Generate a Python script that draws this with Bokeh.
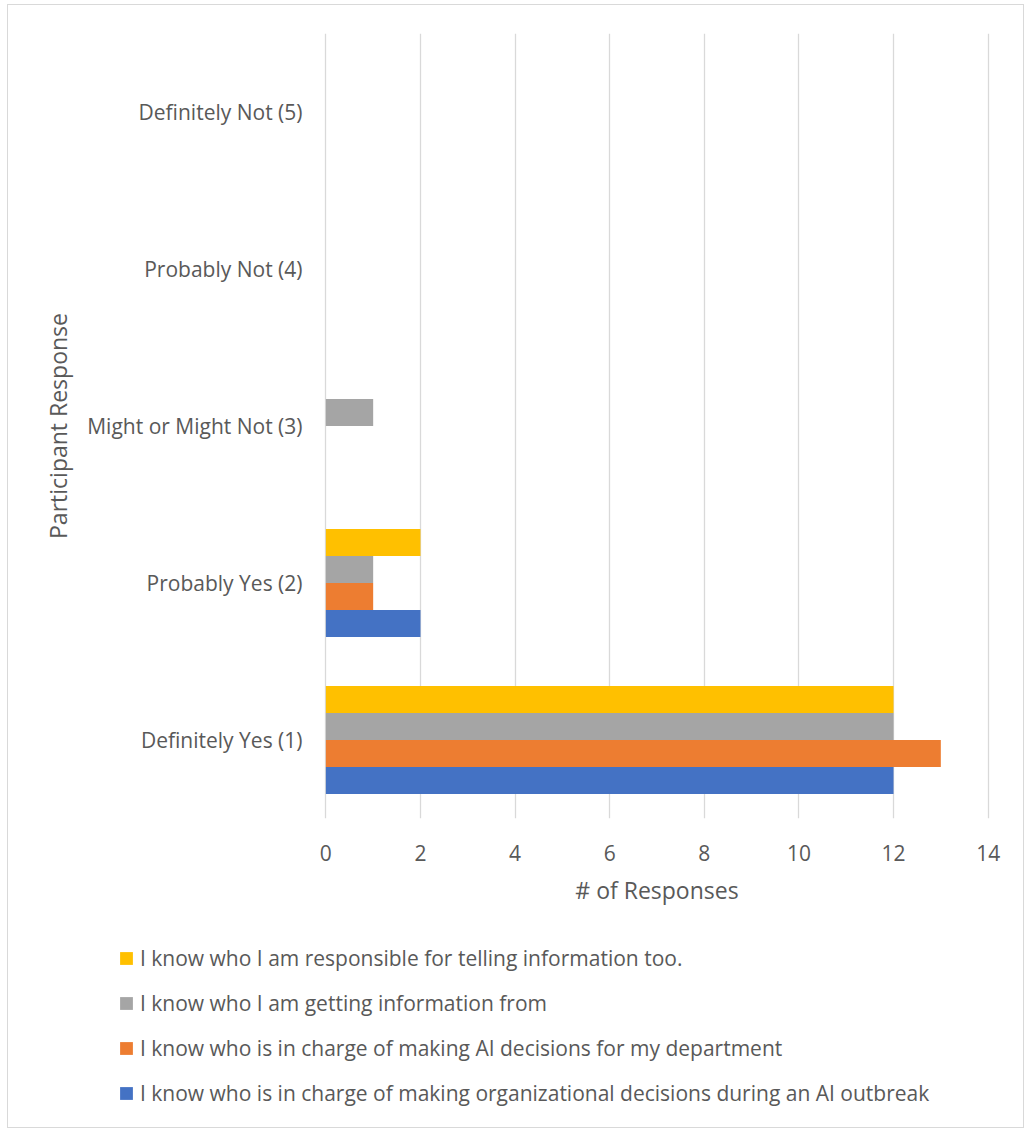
from bokeh.plotting import figure
from bokeh.models import (ColumnDataSource, FactorRange, Range1d, Legend, LegendItem,
                          FixedTicker)
from bokeh.transform import dodge
from bokeh.embed import file_html
from bokeh.resources import INLINE

# Response options, listed bottom to top
categories = ["Definitely Yes (1)", "Probably Yes (2)", "Might or Might Not (3)",
              "Probably Not (4)", "Definitely Not (5)"]

# Counts of responses per statement
organizational = [12, 2, 0, 0, 0]
department_ai = [13, 1, 0, 0, 0]
getting_info = [12, 1, 1, 0, 0]
telling_info = [12, 2, 0, 0, 0]

series_labels = [
    "I know who is in charge of making organizational decisions during an AI outbreak",
    "I know who is in charge of making AI decisions for my department",
    "I know who I am getting information from",
    "I know who I am responsible for telling information too.",
]
series_values = [organizational, department_ai, getting_info, telling_info]
colors = ["#4472C4", "#ED7D31", "#A5A5A5", "#FFC000"]

x_ticks = [0, 2, 4, 6, 8, 10, 12, 14]

FONT = "Open Sans"
TEXT_COLOR = "#595959"
TICK_FS = "21px"
TITLE_FS = "23px"
BORDER = "1px solid #D9D9D9"

INNER_W = 1017
CHART_H = 925
LEGEND_H = 199

# ---- chart -------------------------------------------------------------
p = figure(width=INNER_W, height=CHART_H, output_backend="svg", toolbar_location=None,
           y_range=FactorRange(factors=categories), x_range=Range1d(-0.05, 14.05),
           min_border_left=315, min_border_right=35, min_border_top=28,
           min_border_bottom=112,
           styles={"border-top": BORDER, "border-left": BORDER, "border-right": BORDER,
                   "margin-left": "7px", "margin-top": "4px"})
p.outline_line_color = None
p.background_fill_color = "white"
p.border_fill_color = "white"

source = ColumnDataSource(dict(cat=categories,
                               **{f"s{i}": v for i, v in enumerate(series_values)}))

bar_h = 0.172
for i, color in enumerate(colors):
    offset = (i - 1.5) * bar_h
    p.hbar(y=dodge("cat", offset, range=p.y_range), right=f"s{i}", left=0,
           height=bar_h, source=source, fill_color=color, line_color=None)

p.xaxis.ticker = FixedTicker(ticks=x_ticks)
for ax in (p.xaxis[0], p.yaxis[0]):
    ax.axis_line_color = None
    ax.major_tick_line_color = None
    ax.minor_tick_line_color = None
    ax.major_label_text_font = FONT
    ax.major_label_text_font_size = TICK_FS
    ax.major_label_text_color = TEXT_COLOR
    ax.axis_label_text_font = FONT
    ax.axis_label_text_font_size = TITLE_FS
    ax.axis_label_text_color = TEXT_COLOR
    ax.axis_label_text_font_style = "normal"

p.xaxis.axis_label = "# of Responses"
p.xaxis.major_label_standoff = 20
p.xaxis.axis_label_standoff = 10
p.yaxis.axis_label = "Participant Response"
p.yaxis.major_label_standoff = 15
p.yaxis.axis_label_standoff = 10

p.xgrid.grid_line_color = "#D9D9D9"
p.xgrid.grid_line_width = 1.3
p.ygrid.grid_line_color = None

# ---- legend panel --------------------------------------------------------
lg = figure(width=INNER_W, height=LEGEND_H, output_backend="svg", toolbar_location=None,
            x_axis_type=None, y_axis_type=None, x_range=Range1d(0, 1), y_range=Range1d(0, 1),
            min_border_left=0, min_border_right=0, min_border_top=0, min_border_bottom=0,
            styles={"border-bottom": BORDER, "border-left": BORDER, "border-right": BORDER,
                    "margin-left": "7px"})
lg.outline_line_color = None
lg.grid.grid_line_color = None
lg.background_fill_color = "white"
lg.border_fill_color = "white"

# swatch-only renderers (NaN geometry, nothing drawn in the frame)
nan = float("nan")
swatches = []
for label, color in zip(series_labels, colors):
    r = lg.quad(left=[nan], right=[nan], top=[nan], bottom=[nan],
                fill_color=color, line_color=None)
    swatches.append((label, r))

items = [LegendItem(label=lab, renderers=[r]) for lab, r in reversed(swatches)]
legend = Legend(items=items, location=(110, 21), orientation="vertical",
                glyph_width=16, glyph_height=16, label_height=24, spacing=17,
                label_standoff=6, padding=0, margin=0, border_line_color=None,
                background_fill_alpha=0, label_text_font=FONT,
                label_text_font_size=TICK_FS, label_text_color=TEXT_COLOR)
lg.add_layout(legend, "center")

open("out.html", "w").write(file_html([p, lg], INLINE))
